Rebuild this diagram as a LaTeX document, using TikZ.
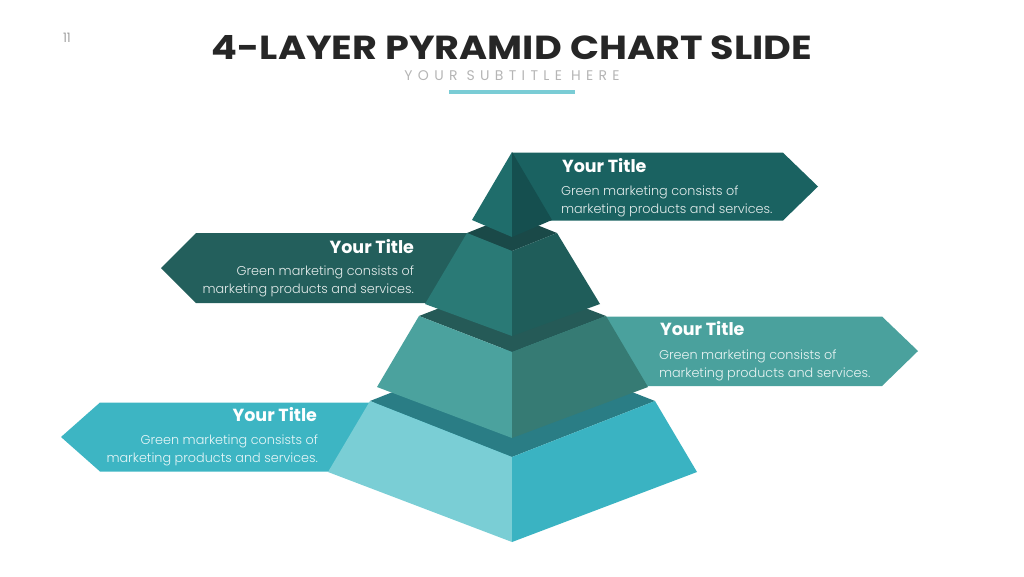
\documentclass[tikz,border=0pt]{standalone}
\usepackage{fontspec}
\usepackage{graphicx}
\setmainfont{Poppins}
\newfontfamily\lightfont{Poppins Light}
\newfontfamily\subfont[LetterSpace=38]{Poppins}
\definecolor{titlec}{HTML}{262626}
\definecolor{subc}{HTML}{B5B5B5}
\definecolor{barc}{HTML}{7ACCD5}
\definecolor{pagec}{HTML}{8A8A8A}
\definecolor{bnA}{HTML}{1A6261}
\definecolor{bnB}{HTML}{235F5C}
\definecolor{bnC}{HTML}{4AA19D}
\definecolor{bnD}{HTML}{3DB5C3}
\definecolor{laL}{HTML}{1F6D6B}
\definecolor{laR}{HTML}{154F4F}
\definecolor{lbT}{HTML}{1A4948}
\definecolor{lbL}{HTML}{2A7A76}
\definecolor{lbR}{HTML}{1F5D5A}
\definecolor{lcT}{HTML}{255A57}
\definecolor{lcL}{HTML}{4BA29E}
\definecolor{lcR}{HTML}{367B74}
\definecolor{ldT}{HTML}{2A7D85}
\definecolor{ldL}{HTML}{7ACED5}
\definecolor{ldR}{HTML}{3AB3C2}
\begin{document}
\begin{tikzpicture}[x=1pt,y=-1pt,
  txt/.style={inner sep=0pt, outer sep=0pt},
  cardtitle/.style={txt, text=white, font=\fontsize{17.5}{20}\selectfont\bfseries},
  cardbody/.style={txt, text=white, text opacity=0.88, font=\lightfont\fontsize{12.8}{15}\selectfont},
]
\useasboundingbox (0,0) rectangle (1024,576);

% header
\node[txt, anchor=base west, text=pagec, font=\lightfont\fontsize{13}{15}\selectfont] (page) at (63,42.7) {11};
\node[txt, anchor=base] (title) at (512,59.3) {\resizebox{600pt}{24pt}{\bfseries\color{titlec}4-LAYER PYRAMID CHART SLIDE}};
\node[txt, anchor=base, text=subc, font=\subfont\fontsize{14}{16}\selectfont] (subtitle) at (512,80) {YOUR SUBTITLE HERE};
\fill[barc] (449,90) rectangle (575,93.5);

% banners (behind the pyramid)
\fill[bnA] (512,152.7) -- (783,152.7) -- (818,186.5) -- (783,220.5) -- (512,220.5) -- cycle;
\fill[bnB] (512,233) -- (196,233) -- (161,268) -- (196,303) -- (512,303) -- cycle;
\fill[bnC] (512,316.5) -- (882,316.5) -- (918,351) -- (882,386) -- (512,386) -- cycle;
\fill[bnD] (512,402.5) -- (100,402.5) -- (61,437) -- (100,471.5) -- (512,471.5) -- cycle;

% layer 4 (bottom)
\fill[ldT] (370,401) -- (512,345) -- (655,401) -- (512,457) -- cycle;
\fill[ldL] (370,401) -- (512,457) -- (512,542) -- (328,472) -- cycle;
\fill[ldR] (512,457) -- (655,401) -- (697,472) -- (512,542) -- cycle;
% layer 3
\fill[lcT] (419,316) -- (512,280) -- (606,316) -- (512,352) -- cycle;
\fill[lcL] (419,316) -- (512,352) -- (512,438) -- (377,387) -- cycle;
\fill[lcR] (512,352) -- (606,316) -- (648,387) -- (512,438) -- cycle;
% layer 2
\fill[lbT] (467,233) -- (512,215) -- (557,233) -- (512,251) -- cycle;
\fill[lbL] (467,233) -- (512,251) -- (512,336) -- (425,304) -- cycle;
\fill[lbR] (512,251) -- (557,233) -- (600,304) -- (512,336) -- cycle;
% layer 1 (apex)
\fill[laL] (512,152) -- (512,237) -- (472,220) -- cycle;
\fill[laR] (512,152) -- (552,220) -- (512,237) -- cycle;

% texts
\node[cardtitle, anchor=base west] (t1) at (562,172.3) {Your Title};
\node[cardbody, anchor=base west] (a1) at (561,195) {Green marketing consists of};
\node[cardbody, anchor=base west] (b1) at (561,213) {marketing products and services.};

\node[cardtitle, anchor=base east] (t2) at (414,253.3) {Your Title};
\node[cardbody, anchor=base east] (a2) at (414,275.3) {Green marketing consists of};
\node[cardbody, anchor=base east] (b2) at (414,293.3) {marketing products and services.};

\node[cardtitle, anchor=base west] (t3) at (660,335.7) {Your Title};
\node[cardbody, anchor=base west] (a3) at (659,359.3) {Green marketing consists of};
\node[cardbody, anchor=base west] (b3) at (659,377.3) {marketing products and services.};

\node[cardtitle, anchor=base east] (t4) at (317,421.7) {Your Title};
\node[cardbody, anchor=base east] (a4) at (318,444.3) {Green marketing consists of};
\node[cardbody, anchor=base east] (b4) at (318,462.7) {marketing products and services.};
\end{tikzpicture}
\end{document}
